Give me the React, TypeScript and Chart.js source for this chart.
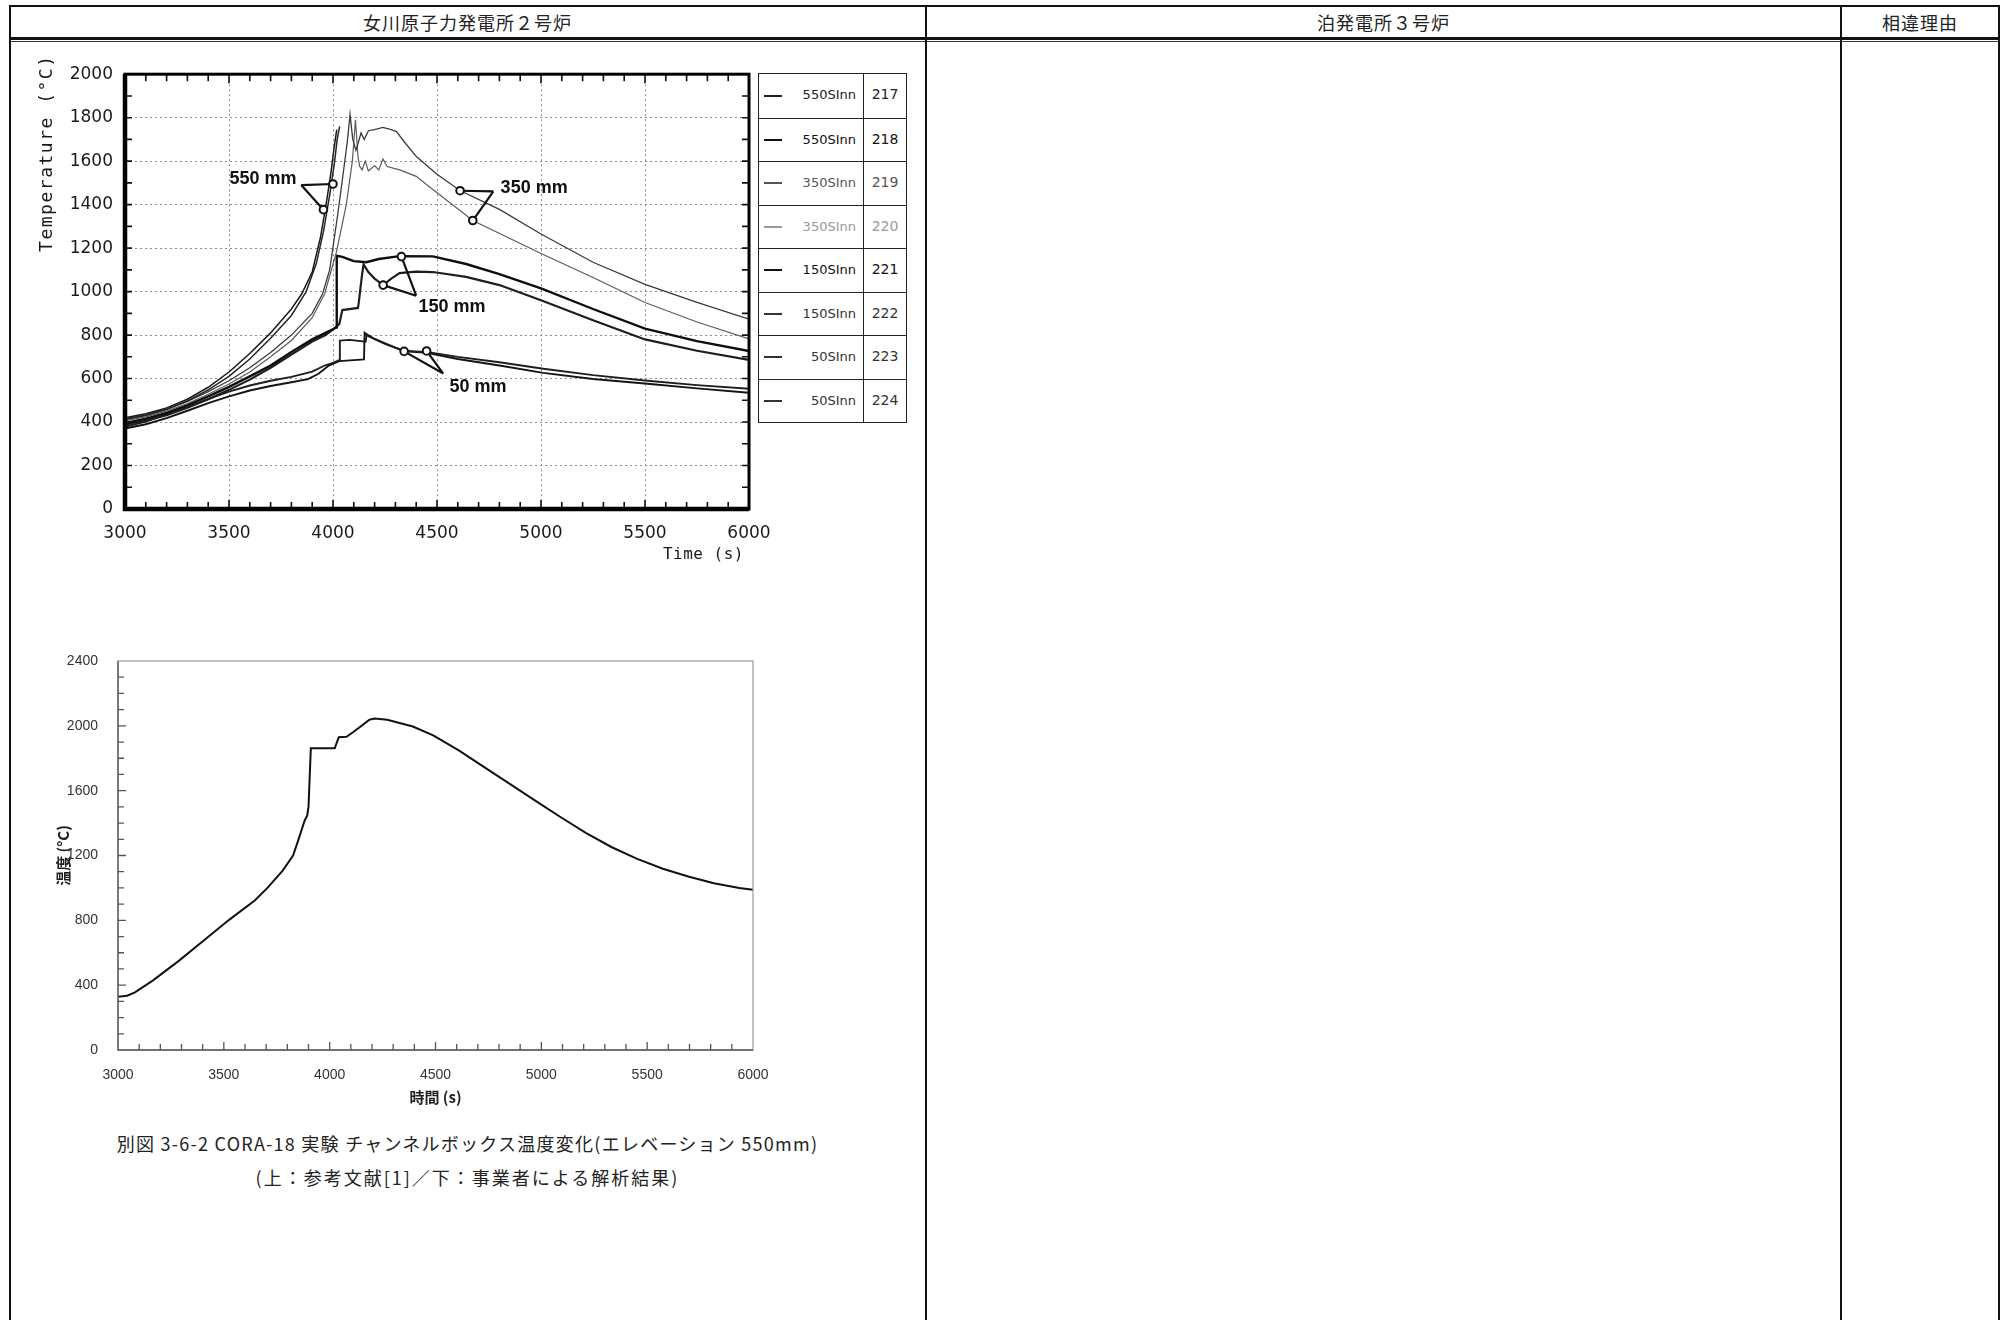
import React, { useEffect, useRef } from "react";
import { Chart, registerables } from "chart.js";

Chart.register(...registerables);

// ---------------- Top chart (reference, CORA-18) ----------------
const TOP_X_TICKS = [3000, 3500, 4000, 4500, 5000, 5500, 6000];
const TOP_Y_TICKS = [0, 200, 400, 600, 800, 1000, 1200, 1400, 1600, 1800, 2000];
const TOP_X_TITLE = "Time (s)";
const TOP_Y_TITLE = "Temperature (°C)";

const T217 = [3000, 3100, 3200, 3300, 3400, 3500, 3600, 3700, 3800, 3850, 3900, 3940, 3970, 3992, 4005, 4018];
const V217 = [420, 438, 465, 505, 560, 630, 715, 810, 920, 990, 1090, 1250, 1420, 1560, 1660, 1745];

const T218 = [3000, 3100, 3200, 3300, 3400, 3500, 3600, 3700, 3800, 3871, 3920, 3955, 3985, 4008, 4020, 4032];
const V218 = [412, 430, 458, 497, 548, 610, 690, 785, 890, 1000, 1130, 1280, 1450, 1600, 1700, 1760];

const T219 = [3000, 3100, 3200, 3300, 3400, 3500, 3600, 3700, 3800, 3900, 3950, 3984, 4022, 4050, 4070, 4082, 4095, 4110, 4120, 4135, 4150, 4170, 4200, 4240, 4280, 4305, 4350, 4402, 4500, 4610, 4800, 5000, 5250, 5500, 5750, 6000];
const V219 = [415, 433, 460, 495, 540, 590, 650, 720, 800, 900, 990, 1100, 1350, 1550, 1700, 1815, 1700, 1650, 1680, 1730, 1700, 1740, 1745, 1755, 1745, 1736, 1680, 1620, 1540, 1465, 1378, 1265, 1135, 1033, 950, 873];

const T220 = [3000, 3100, 3200, 3300, 3400, 3500, 3600, 3700, 3800, 3900, 3960, 4016, 4064, 4093, 4108, 4120, 4128, 4140, 4155, 4170, 4200, 4220, 4240, 4260, 4321, 4400, 4480, 4672, 5000, 5250, 5500, 5750, 6000];
const V220 = [405, 424, 450, 485, 528, 575, 630, 700, 775, 880, 990, 1180, 1400, 1600, 1790, 1620, 1577, 1560, 1600, 1555, 1580, 1560, 1610, 1575, 1560, 1530, 1470, 1327, 1175, 1065, 950, 860, 782];

const T221 = [3000, 3100, 3200, 3300, 3400, 3500, 3600, 3700, 3800, 3900, 3964, 4004, 4015, 4018, 4045, 4100, 4160, 4220, 4320, 4480, 4640, 4800, 5000, 5250, 5500, 5750, 6000];
const V221 = [395, 415, 442, 478, 518, 562, 610, 660, 722, 780, 810, 829, 835, 1165, 1160, 1140, 1135, 1150, 1163, 1162, 1127, 1080, 1015, 920, 830, 772, 727];

const T222 = [3000, 3100, 3200, 3300, 3400, 3500, 3600, 3700, 3800, 3900, 3964, 4004, 4030, 4045, 4120, 4124, 4130, 4140, 4147, 4170, 4200, 4241, 4280, 4320, 4400, 4480, 4640, 4800, 5000, 5250, 5500, 5750, 6000];
const V222 = [388, 406, 432, 466, 505, 548, 595, 650, 710, 770, 800, 829, 850, 915, 925, 950, 1000, 1080, 1125, 1090, 1060, 1030, 1060, 1085, 1092, 1090, 1068, 1030, 960, 868, 780, 728, 686];

const T223 = [3000, 3100, 3200, 3300, 3400, 3500, 3600, 3700, 3800, 3900, 3960, 4000, 4029, 4033, 4080, 4157, 4162, 4200, 4300, 4342, 4450, 4600, 4800, 5011, 5250, 5512, 5750, 6000];
const V223 = [378, 402, 435, 470, 505, 540, 568, 590, 608, 632, 660, 672, 684, 775, 778, 770, 805, 782, 742, 727, 722, 700, 675, 645, 616, 590, 570, 553];

const T224 = [3000, 3100, 3200, 3300, 3400, 3500, 3600, 3700, 3800, 3880, 3930, 3980, 4030, 4100, 4149, 4152, 4170, 4250, 4342, 4450, 4600, 4800, 5011, 5250, 5512, 5750, 6000];
const V224 = [370, 390, 418, 452, 487, 518, 545, 566, 583, 597, 622, 660, 680, 685, 688, 810, 795, 760, 727, 718, 690, 660, 626, 598, 576, 555, 535];

const TOP_NAMES = ["550SInn", "550SInn", "350SInn", "350SInn", "150SInn", "150SInn", "50SInn", "50SInn"];
const TOP_IDS = ["217", "218", "219", "220", "221", "222", "223", "224"];
const TOP_TIMES = [T217, T218, T219, T220, T221, T222, T223, T224];
const TOP_VALUES = [V217, V218, V219, V220, V221, V222, V223, V224];

// annotation callouts (data coordinates)
const NOTE_TEXTS = ["550 mm", "350 mm", "150 mm", "50 mm"];
const NOTE_LABEL_AT = [[3663, 1518], [4967, 1476], [4572, 928], [4697, 562]];
const NOTE_APEX = [[3847, 1490], [4771, 1461], [4400, 981], [4530, 623]];
const NOTE_MARKS = [
  [[4000, 1495], [3954, 1377]],
  [[4611, 1464], [4672, 1327]],
  [[4329, 1161], [4241, 1030]],
  [[4342, 725], [4450, 727]],
];

// ---------------- Bottom chart (licensee analysis) ----------------
const BOT_X_TICKS = [3000, 3500, 4000, 4500, 5000, 5500, 6000];
const BOT_Y_TICKS = [0, 400, 800, 1200, 1600, 2000, 2400];
const BOT_T = [3000, 3043, 3080, 3164, 3284, 3405, 3525, 3646, 3706, 3778, 3827, 3851, 3882, 3894, 3900, 3911, 3960, 4024, 4043, 4080, 4110, 4140, 4188, 4212, 4272, 4393, 4489, 4610, 4730, 4851, 4971, 5092, 5212, 5333, 5453, 5574, 5694, 5815, 5935, 6000];
const BOT_V = [329, 335, 356, 428, 547, 675, 803, 922, 1000, 1107, 1200, 1292, 1416, 1447, 1500, 1862, 1862, 1862, 1930, 1932, 1960, 1990, 2038, 2045, 2038, 1996, 1941, 1848, 1745, 1642, 1539, 1436, 1338, 1251, 1179, 1118, 1070, 1029, 1000, 988];

// ---------------- Styles ----------------
const TOP_LINE_COLORS = ["#1a1a1a", "#262626", "#3a3a3a", "#5c5c5c", "#0e0e0e", "#1e1e1e", "#1e1e1e", "#141414"];
const TOP_LINE_WIDTHS = [1.5, 1.5, 1.3, 1.2, 2.4, 2.2, 1.9, 1.9];
const LEGEND_TEXT_COLORS = ["#222", "#111", "#555", "#999", "#111", "#333", "#333", "#333"];

const pts = (t: number[], v: number[]) => t.map((x, i) => ({ x, y: v[i] }));

const topDecor = {
  id: "topDecor",
  afterDatasetsDraw(chart: any) {
    const { ctx, chartArea: a, scales } = chart;
    const xs = scales.x;
    const ys = scales.y;
    ctx.save();
    // inward minor ticks on all four sides
    ctx.strokeStyle = "#111";
    ctx.lineWidth = 1.6;
    ctx.beginPath();
    for (let v = xs.min + 100; v < xs.max; v += 100) {
      const px = xs.getPixelForValue(v);
      const len = v % 500 === 0 ? 9 : 7;
      ctx.moveTo(px, a.bottom);
      ctx.lineTo(px, a.bottom - len);
      ctx.moveTo(px, a.top);
      ctx.lineTo(px, a.top + len);
    }
    for (let v = ys.min + 100; v < ys.max; v += 100) {
      const py = ys.getPixelForValue(v);
      ctx.moveTo(a.left, py);
      ctx.lineTo(a.left + 7, py);
      ctx.moveTo(a.right, py);
      ctx.lineTo(a.right - 7, py);
    }
    ctx.stroke();
    // frame
    ctx.strokeStyle = "#000";
    ctx.lineWidth = 3;
    ctx.strokeRect(a.left, a.top, a.right - a.left, a.bottom - a.top);
    ctx.lineWidth = 4.5;
    ctx.beginPath();
    ctx.moveTo(a.left, a.top);
    ctx.lineTo(a.left, a.bottom);
    ctx.lineTo(a.right, a.bottom);
    ctx.stroke();
    // callouts
    for (let i = 0; i < NOTE_TEXTS.length; i++) {
      const ax = xs.getPixelForValue(NOTE_APEX[i][0]);
      const ay = ys.getPixelForValue(NOTE_APEX[i][1]);
      ctx.strokeStyle = "#111";
      ctx.lineWidth = 2.2;
      ctx.beginPath();
      for (const m of NOTE_MARKS[i]) {
        ctx.moveTo(ax, ay);
        ctx.lineTo(xs.getPixelForValue(m[0]), ys.getPixelForValue(m[1]));
      }
      ctx.stroke();
      for (const m of NOTE_MARKS[i]) {
        ctx.beginPath();
        ctx.arc(xs.getPixelForValue(m[0]), ys.getPixelForValue(m[1]), 3.8, 0, Math.PI * 2);
        ctx.fillStyle = "#fff";
        ctx.fill();
        ctx.lineWidth = 2;
        ctx.stroke();
      }
      ctx.fillStyle = "#111";
      ctx.font = "bold 18px 'Liberation Sans', Arial, sans-serif";
      ctx.textAlign = "center";
      ctx.textBaseline = "middle";
      ctx.fillText(NOTE_TEXTS[i], xs.getPixelForValue(NOTE_LABEL_AT[i][0]), ys.getPixelForValue(NOTE_LABEL_AT[i][1]));
    }
    // axis titles (placed as in the scanned original)
    ctx.fillStyle = "#1a1a1a";
    ctx.textBaseline = "middle";
    ctx.font = "18px 'DejaVu Sans Mono', monospace";
    (ctx as any).letterSpacing = "1.5px";
    ctx.save();
    ctx.translate(a.left - 78, a.top + 79);
    ctx.rotate(-Math.PI / 2);
    ctx.textAlign = "center";
    ctx.fillText(TOP_Y_TITLE, 0, 0);
    ctx.restore();
    ctx.font = "16px 'DejaVu Sans Mono', monospace";
    (ctx as any).letterSpacing = "0.5px";
    ctx.textAlign = "right";
    ctx.fillText(TOP_X_TITLE, a.right - 5, a.bottom + 46);
    ctx.restore();
  },
};

const botDecor = {
  id: "botDecor",
  afterDatasetsDraw(chart: any) {
    const { ctx, chartArea: a, scales } = chart;
    const xs = scales.x;
    const ys = scales.y;
    ctx.save();
    ctx.strokeStyle = "#9a9a9a";
    ctx.lineWidth = 1.2;
    ctx.strokeRect(a.left, a.top, a.right - a.left, a.bottom - a.top);
    ctx.strokeStyle = "#555";
    ctx.lineWidth = 1.3;
    ctx.beginPath();
    ctx.moveTo(a.left, a.top);
    ctx.lineTo(a.left, a.bottom);
    ctx.lineTo(a.right, a.bottom);
    for (let v = xs.min + 100; v < xs.max; v += 100) {
      const px = xs.getPixelForValue(v);
      const len = v % 500 === 0 ? 8 : 6;
      ctx.moveTo(px, a.bottom);
      ctx.lineTo(px, a.bottom - len);
    }
    for (let v = ys.min + 100; v < ys.max; v += 100) {
      const py = ys.getPixelForValue(v);
      const len = v % 400 === 0 ? 8 : 6;
      ctx.moveTo(a.left, py);
      ctx.lineTo(a.left + len, py);
    }
    ctx.stroke();
    ctx.restore();
  },
};

function TopChart() {
  const ref = useRef<HTMLCanvasElement>(null);
  useEffect(() => {
    const chart = new Chart(ref.current as HTMLCanvasElement, {
      type: "line",
      data: {
        datasets: TOP_TIMES.map((t, i) => ({
          label: TOP_NAMES[i] + " " + TOP_IDS[i],
          data: pts(t, TOP_VALUES[i]),
          borderColor: TOP_LINE_COLORS[i],
          borderWidth: TOP_LINE_WIDTHS[i],
          pointRadius: 0,
          tension: 0,
          fill: false,
        })),
      },
      options: {
        animation: false,
        responsive: false,
        layout: { autoPadding: false, padding: { left: 0, right: 41, top: 20, bottom: 0 } },
        plugins: { legend: { display: false }, tooltip: { enabled: false } },
        scales: {
          x: {
            type: "linear",
            min: 3000,
            max: 6000,
            afterBuildTicks: (s: any) => { s.ticks = TOP_X_TICKS.map((v) => ({ value: v })); },
            afterFit: (s: any) => { s.height = 73; },
            grid: { color: "#8c8c8c", lineWidth: 1, drawTicks: false },
            border: { display: false, dash: [2, 3] },
            ticks: { padding: 14, color: "#1a1a1a", font: { family: "'DejaVu Sans', sans-serif", size: 17 }, callback: (v: any) => String(v), maxRotation: 0 },
            title: { display: false },
          },
          y: {
            type: "linear",
            min: 0,
            max: 2000,
            afterBuildTicks: (s: any) => { s.ticks = TOP_Y_TICKS.map((v) => ({ value: v })); },
            afterFit: (s: any) => { s.width = 105; },
            grid: { color: "#8c8c8c", lineWidth: 1, drawTicks: false },
            border: { display: false, dash: [2, 3] },
            ticks: { padding: 12, color: "#1a1a1a", font: { family: "'DejaVu Sans', sans-serif", size: 17 }, callback: (v: any) => String(v) },
            title: { display: false },
          },
        },
      } as any,
      plugins: [topDecor],
    });
    return () => chart.destroy();
  }, []);
  return <canvas ref={ref} width={770} height={530} style={{ position: "absolute", left: 20, top: 52, width: 770, height: 530 }} />;
}

function BottomChart() {
  const ref = useRef<HTMLCanvasElement>(null);
  useEffect(() => {
    const chart = new Chart(ref.current as HTMLCanvasElement, {
      type: "line",
      data: {
        datasets: [
          {
            label: "解析結果",
            data: pts(BOT_T, BOT_V),
            borderColor: "#111",
            borderWidth: 2,
            pointRadius: 0,
            tension: 0,
            fill: false,
          },
        ],
      },
      options: {
        animation: false,
        responsive: false,
        layout: { autoPadding: false, padding: { left: 0, right: 47, top: 21, bottom: 0 } },
        plugins: { legend: { display: false }, tooltip: { enabled: false } },
        scales: {
          x: {
            type: "linear",
            min: 3000,
            max: 6000,
            afterBuildTicks: (s: any) => { s.ticks = BOT_X_TICKS.map((v) => ({ value: v })); },
            afterFit: (s: any) => { s.height = 70; },
            grid: { display: false },
            border: { display: false },
            ticks: { padding: 9, color: "#333", font: { family: "'Liberation Sans', Arial, sans-serif", size: 14 }, callback: (v: any) => String(v), maxRotation: 0 },
            title: { display: true, text: "時間 (s)", color: "#222", font: { family: "'Noto Sans CJK JP', sans-serif", size: 15, weight: "bold" }, padding: { top: 0, bottom: 14 } },
          },
          y: {
            type: "linear",
            min: 0,
            max: 2400,
            afterBuildTicks: (s: any) => { s.ticks = BOT_Y_TICKS.map((v) => ({ value: v })); },
            afterFit: (s: any) => { s.width = 98; },
            grid: { display: false },
            border: { display: false },
            ticks: { padding: 12, color: "#333", font: { family: "'Liberation Sans', Arial, sans-serif", size: 14 }, callback: (v: any) => String(v) },
            title: { display: true, text: "温度 (°C)", color: "#222", font: { family: "'Noto Sans CJK JP', sans-serif", size: 15, weight: "bold" }, padding: { top: 34, bottom: 0 } },
          },
        },
      } as any,
      plugins: [botDecor],
    });
    return () => chart.destroy();
  }, []);
  return <canvas ref={ref} width={780} height={480} style={{ position: "absolute", left: 20, top: 640, width: 780, height: 480 }} />;
}

function Legend() {
  const rowH = 43.5;
  return (
    <div style={{ position: "absolute", left: 758, top: 73, width: 149, border: "1.5px solid #222", boxSizing: "border-box", background: "#fff" }}>
      {TOP_IDS.map((id, i) => (
        <div key={id} style={{ position: "relative", height: rowH, borderTop: i ? "1.5px solid #222" : "none", boxSizing: "border-box" }}>
          <div style={{ position: "absolute", left: 5, top: "50%", width: 18, height: 2, marginTop: -1, background: LEGEND_TEXT_COLORS[i] }} />
          <div style={{ position: "absolute", right: 50, top: 0, lineHeight: rowH - 2 + "px", fontFamily: "'DejaVu Sans', sans-serif", fontSize: 13, color: LEGEND_TEXT_COLORS[i] }}>{TOP_NAMES[i]}</div>
          <div style={{ position: "absolute", left: 104, top: 0, bottom: 0, borderLeft: "1.5px solid #222" }} />
          <div style={{ position: "absolute", left: 105, right: 0, top: 0, textAlign: "center", lineHeight: rowH - 2 + "px", fontFamily: "'DejaVu Sans', sans-serif", fontSize: 14, color: LEGEND_TEXT_COLORS[i] }}>{id}</div>
        </div>
      ))}
    </div>
  );
}

const vline = (x: number, w = 2): React.CSSProperties => ({ position: "absolute", left: x, top: 5, width: w, height: 1315, background: "#111" });

export default function App() {
  const cjk = "'Noto Sans CJK JP', sans-serif";
  const head: React.CSSProperties = { position: "absolute", top: 6, height: 32, lineHeight: "32px", textAlign: "center", fontFamily: cjk, fontSize: 18, letterSpacing: 1, color: "#222" };
  const cap: React.CSSProperties = { position: "absolute", left: 10, width: 915, textAlign: "center", fontFamily: cjk, fontSize: 18, color: "#222" };
  return (
    <div style={{ position: "absolute", left: 0, top: 0, width: 2008, height: 1320, overflow: "hidden", background: "#fff" }}>
      {/* table frame */}
      <div style={{ position: "absolute", left: 9, top: 5, width: 1991, height: 1.5, background: "#111" }} />
      <div style={{ position: "absolute", left: 9, top: 37, width: 1991, height: 2.5, background: "#111" }} />
      <div style={{ position: "absolute", left: 9, top: 41, width: 1991, height: 1, background: "#333" }} />
      <div style={vline(9)} />
      <div style={vline(925)} />
      <div style={vline(1840)} />
      <div style={vline(1998)} />
      <div style={{ ...head, left: 10, width: 915 }}>女川原子力発電所２号炉</div>
      <div style={{ ...head, left: 927, width: 913 }}>泊発電所３号炉</div>
      <div style={{ ...head, left: 1842, width: 156 }}>相違理由</div>

      <TopChart />
      <Legend />
      <BottomChart />

      <div style={{ ...cap, top: 1130, lineHeight: "27px", letterSpacing: 1.25 }}>別図 3-6-2 CORA-18 実験 チャンネルボックス温度変化(エレベーション 550mm)</div>
      <div style={{ ...cap, top: 1164, lineHeight: "27px", letterSpacing: 2 }}>(上：参考文献[1]／下：事業者による解析結果)</div>
    </div>
  );
}
